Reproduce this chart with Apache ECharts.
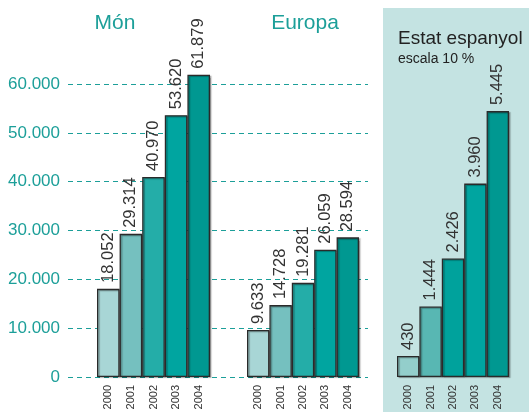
<!DOCTYPE html>
<html>
<head>
<meta charset="utf-8">
<style>
  html, body { margin: 0; padding: 0; background: #ffffff; }
  #chart { width: 530px; height: 414px; }
</style>
<script src="https://cdn.jsdelivr.net/npm/echarts@6/dist/echarts.min.js"></script>
</head>
<body>
<div id="chart"></div>
<script>
// ---- data ----
const years = ['2000', '2001', '2002', '2003', '2004'];
const monValues = [18052, 29314, 40970, 53620, 61879];
const europaValues = [9633, 14728, 19281, 26059, 28594];
const spainValues = [430, 1444, 2426, 3960, 5445];
const spainScale = 10; // "escala 10 %"
const panelTitles = ['Món', 'Europa'];
const spainTitle = 'Estat espanyol';
const spainSubtitle = 'escala 10 %';
const yMin = 0, yMax = 60000, yStep = 10000;

// ---- styles ----
const FONT = 'Liberation Sans';
const TEAL = '#1c9f99';
const mainColors = ['#a8d6d6', '#75c0bf', '#24ada8', '#00a5a0', '#009891'];
const spainColors = ['#93cecb', '#58b7b3', '#00a29c', '#00a5a0', '#009891'];

function fmt(v) {
  return String(v).replace(/\B(?=(\d{3})+(?!\d))/g, '.');
}

const gridTop = 84, gridBottom = 37;

function barSeries(idx, values, colors, scale, labelValues) {
  return {
    type: 'bar',
    xAxisIndex: idx,
    yAxisIndex: idx,
    barCategoryGap: '0%',
    clip: false,
    z: 5,
    data: values.map((v, i) => ({
      value: v * scale,
      raw: labelValues[i],
      itemStyle: { color: colors[i] }
    })),
    itemStyle: {
      borderColor: '#2a2a2a',
      borderWidth: 1.3,
      shadowColor: 'rgba(0,0,0,0.3)',
      shadowOffsetX: 1.5,
      shadowOffsetY: 1,
      shadowBlur: 1
    },
    label: {
      show: true,
      position: 'top',
      rotate: 90,
      align: 'left',
      verticalAlign: 'middle',
      distance: 6,
      fontFamily: FONT,
      fontSize: 16.5,
      color: '#333333',
      formatter: p => fmt(p.data.raw)
    }
  };
}

function catAxis(idx) {
  return {
    type: 'category',
    gridIndex: idx,
    data: years,
    axisLine: { show: false },
    axisTick: { show: false },
    splitLine: { show: false },
    axisLabel: {
      rotate: 90,
      margin: 8,
      fontFamily: FONT,
      fontSize: 11,
      color: '#333333'
    }
  };
}

function hiddenY(idx) {
  return {
    type: 'value', gridIndex: idx, min: yMin, max: yMax, interval: yStep,
    show: false, splitLine: { show: false }
  };
}

const option = {
  animation: false,
  backgroundColor: '#ffffff',
  graphic: [
    {
      type: 'rect',
      z: -10,
      silent: true,
      shape: { x: 383, y: 8, width: 146, height: 404 },
      style: { fill: '#c4e3e2' }
    }
  ],
  title: [
    { text: panelTitles[0], left: 110, top: 8, textAlign: 'center',
      textStyle: { fontFamily: FONT, fontSize: 21, fontWeight: 'normal', color: TEAL } },
    { text: panelTitles[1], left: 300, top: 8, textAlign: 'center',
      textStyle: { fontFamily: FONT, fontSize: 21, fontWeight: 'normal', color: TEAL } },
    { text: spainTitle, left: 393, top: 24,
      textStyle: { fontFamily: FONT, fontSize: 19, fontWeight: 'normal', color: '#222222' } },
    { text: spainSubtitle, left: 393, top: 47,
      textStyle: { fontFamily: FONT, fontSize: 14, fontWeight: 'normal', color: '#222222' } }
  ],
  grid: [
    { left: 68, right: 162, top: gridTop, bottom: gridBottom },
    { left: 97, width: 113, top: gridTop, bottom: gridBottom },
    { left: 247, width: 112, top: gridTop, bottom: gridBottom },
    { left: 397, width: 112, top: gridTop, bottom: gridBottom }
  ],
  xAxis: [
    { type: 'value', gridIndex: 0, show: false, min: 0, max: 1 },
    catAxis(1), catAxis(2), catAxis(3)
  ],
  yAxis: [
    {
      type: 'value', gridIndex: 0, min: yMin, max: yMax, interval: yStep,
      axisLine: { show: false },
      axisTick: { show: false },
      axisLabel: {
        margin: 8,
        fontFamily: FONT,
        fontSize: 17,
        color: TEAL,
        formatter: v => fmt(v)
      },
      splitLine: {
        show: true,
        lineStyle: { color: TEAL, width: 1, type: [5, 4] }
      }
    },
    hiddenY(1), hiddenY(2), hiddenY(3)
  ],
  series: [
    barSeries(1, monValues, mainColors, 1, monValues),
    barSeries(2, europaValues, mainColors, 1, europaValues),
    barSeries(3, spainValues, spainColors, spainScale, spainValues)
  ]
};

const chart = echarts.init(document.getElementById('chart'), null, { renderer: 'canvas' });
chart.setOption(option);
</script>
</body>
</html>
